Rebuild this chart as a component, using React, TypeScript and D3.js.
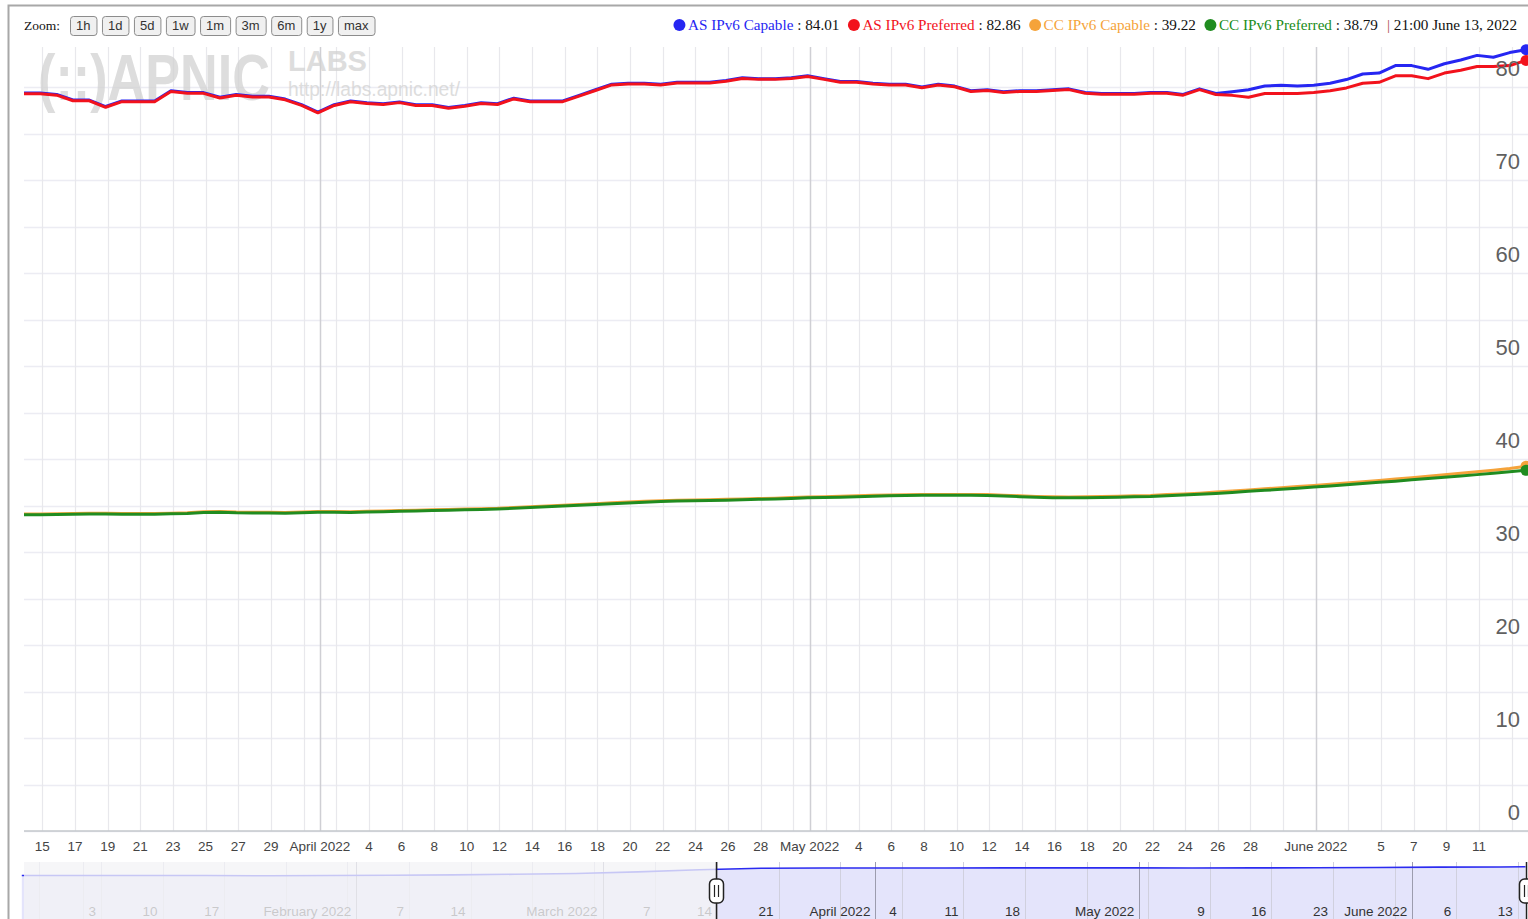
import * as d3 from "d3";
import { useEffect, useRef } from "react";

const WIDTH = 1528;
const HEIGHT = 919;

const seriesNames = [
  "AS IPv6 Capable",
  "AS IPv6 Preferred",
  "CC IPv6 Capable",
  "CC IPv6 Preferred",
];
const seriesColors = ["#2626f2", "#f2121c", "#f5a33a", "#208c20"];
const lastLabels = ["84.01", "82.86", "39.22", "38.79"];
const lastStamp = "21:00 June 13, 2022";

// daily samples at 21:00 UTC, first one on March 13
const firstSample = "2022-03-13T21:00:00Z";
const viewStart = "2022-03-13T21:00:00Z";
const viewEnd = "2022-06-13T21:00:00Z";
const navStart = "2021-12-25T06:00:00Z";

const asCapable = [
  79.35, 79.35, 79.2, 78.6, 78.6, 77.9, 78.5, 78.5, 78.5, 79.6,
  79.4, 79.4, 78.9, 79.2, 79.0, 79.0, 78.7, 78.1, 77.3, 78.1,
  78.5, 78.3, 78.2, 78.4, 78.1, 78.1, 77.8, 78.0, 78.3, 78.2,
  78.8, 78.5, 78.5, 78.5, 79.1, 79.7, 80.3, 80.4, 80.4, 80.3,
  80.5, 80.5, 80.5, 80.7, 81.0, 80.9, 80.9, 81.0, 81.2, 80.9,
  80.6, 80.6, 80.4, 80.3, 80.3, 80.0, 80.3, 80.1, 79.6, 79.7,
  79.5, 79.6, 79.6, 79.7, 79.8, 79.4, 79.3, 79.3, 79.3, 79.4,
  79.4, 79.2, 79.8, 79.3, 79.5, 79.7, 80.1, 80.2, 80.1, 80.2,
  80.4, 80.8, 81.4, 81.5, 82.3, 82.3, 81.9, 82.5, 82.9, 83.4,
  83.2, 83.7, 84.01,
];

const asPreferred = [
  79.27, 79.27, 79.12, 78.52, 78.52, 77.82, 78.42, 78.42, 78.42, 79.52,
  79.32, 79.32, 78.82, 79.12, 78.92, 78.92, 78.62, 78.02, 77.22, 78.02,
  78.42, 78.22, 78.12, 78.32, 78.02, 78.02, 77.72, 77.92, 78.22, 78.12,
  78.72, 78.42, 78.42, 78.42, 79.02, 79.62, 80.22, 80.32, 80.32, 80.22,
  80.42, 80.42, 80.42, 80.62, 80.92, 80.82, 80.82, 80.92, 81.12, 80.82,
  80.52, 80.52, 80.32, 80.22, 80.22, 79.92, 80.22, 80.02, 79.52, 79.62,
  79.42, 79.52, 79.52, 79.62, 79.72, 79.32, 79.22, 79.22, 79.22, 79.32,
  79.32, 79.12, 79.72, 79.2, 79.1, 78.9, 79.3, 79.3, 79.3, 79.4,
  79.6, 79.9, 80.4, 80.5, 81.2, 81.2, 80.9, 81.5, 81.8, 82.2,
  82.2, 82.3, 82.86,
];

const ccCapable = [
  34.08, 34.08, 34.1, 34.13, 34.16, 34.16, 34.14, 34.13, 34.14, 34.18,
  34.23, 34.33, 34.36, 34.3, 34.28, 34.28, 34.26, 34.3, 34.36, 34.36,
  34.34, 34.38, 34.42, 34.46, 34.5, 34.55, 34.58, 34.62, 34.65, 34.7,
  34.79, 34.87, 34.95, 35.03, 35.11, 35.19, 35.29, 35.37, 35.45, 35.52,
  35.57, 35.59, 35.62, 35.66, 35.71, 35.75, 35.79, 35.85, 35.91, 35.95,
  35.99, 36.04, 36.09, 36.13, 36.16, 36.18, 36.19, 36.19, 36.19, 36.17,
  36.11, 36.05, 35.98, 35.94, 35.92, 35.94, 35.97, 36.0, 36.05, 36.08,
  36.17, 36.24, 36.33, 36.44, 36.55, 36.67, 36.79, 36.91, 37.03, 37.15,
  37.28, 37.42, 37.56, 37.7, 37.84, 37.99, 38.14, 38.3, 38.46, 38.62,
  38.8, 38.98, 39.22,
];

const ccPreferred = [
  34.0, 34.0, 34.02, 34.05, 34.08, 34.08, 34.06, 34.05, 34.06, 34.1,
  34.15, 34.25, 34.28, 34.22, 34.2, 34.2, 34.18, 34.22, 34.28, 34.28,
  34.26, 34.3, 34.34, 34.38, 34.42, 34.47, 34.5, 34.54, 34.57, 34.62,
  34.7, 34.78, 34.86, 34.94, 35.02, 35.1, 35.2, 35.28, 35.36, 35.43,
  35.48, 35.5, 35.53, 35.57, 35.62, 35.66, 35.7, 35.76, 35.82, 35.86,
  35.9, 35.95, 36.0, 36.04, 36.07, 36.09, 36.1, 36.1, 36.1, 36.08,
  36.02, 35.95, 35.88, 35.84, 35.82, 35.84, 35.87, 35.9, 35.94, 35.97,
  36.05, 36.12, 36.2, 36.3, 36.41, 36.52, 36.63, 36.74, 36.86, 36.98,
  37.1, 37.23, 37.36, 37.49, 37.62, 37.76, 37.9, 38.04, 38.18, 38.32,
  38.46, 38.62, 38.79,
];

// navigator overview (weekly AS IPv6 Capable)
const navDates = [
  "2021-12-25", "2022-01-01", "2022-01-08", "2022-01-15", "2022-01-22",
  "2022-01-29", "2022-02-05", "2022-02-12", "2022-02-19", "2022-02-26",
  "2022-03-05", "2022-03-12", "2022-03-19", "2022-03-26", "2022-04-02",
  "2022-04-09", "2022-04-16", "2022-04-23", "2022-04-30", "2022-05-07",
  "2022-05-14", "2022-05-21", "2022-05-28", "2022-06-04", "2022-06-11",
  "2022-06-13T21:00:00Z",
];
const navValues = [
  70.5, 70.5, 70.4, 70.3, 70.1, 70.3, 70.7, 71.3, 72.2, 73.4,
  75.6, 78.8, 81.0, 81.2, 81.2, 81.3, 81.4, 81.5, 81.4, 81.3,
  81.4, 81.6, 82.0, 82.5, 82.8, 83.0,
];

const yTicks = [0, 10, 20, 30, 40, 50, 60, 70, 80];
const yGrid = [0, 5, 10, 15, 20, 25, 30, 35, 40, 45, 50, 55, 60, 65, 70, 75, 80];

const xTickDates = [
  "2022-03-15", "2022-03-17", "2022-03-19", "2022-03-21", "2022-03-23",
  "2022-03-25", "2022-03-27", "2022-03-29", "2022-03-31", "2022-04-01",
  "2022-04-02", "2022-04-04", "2022-04-06", "2022-04-08", "2022-04-10",
  "2022-04-12", "2022-04-14", "2022-04-16", "2022-04-18", "2022-04-20",
  "2022-04-22", "2022-04-24", "2022-04-26", "2022-04-28", "2022-04-30",
  "2022-05-01", "2022-05-02", "2022-05-04", "2022-05-06", "2022-05-08",
  "2022-05-10", "2022-05-12", "2022-05-14", "2022-05-16", "2022-05-18",
  "2022-05-20", "2022-05-22", "2022-05-24", "2022-05-26", "2022-05-28",
  "2022-05-30", "2022-06-01", "2022-06-03", "2022-06-05", "2022-06-07",
  "2022-06-09", "2022-06-11", "2022-06-13",
];
const xTickLabels = [
  "15", "17", "19", "21", "23", "25", "27", "29", "", "April 2022",
  "", "4", "6", "8", "10", "12", "14", "16", "18", "20",
  "22", "24", "26", "28", "", "May 2022", "", "4", "6", "8",
  "10", "12", "14", "16", "18", "20", "22", "24", "26", "28",
  "", "June 2022", "", "5", "7", "9", "11", "",
];

const navTickDates = [
  "2021-12-27", "2022-01-01", "2022-01-03", "2022-01-10", "2022-01-17",
  "2022-01-24", "2022-01-31", "2022-02-01", "2022-02-07", "2022-02-14",
  "2022-02-21", "2022-02-28", "2022-03-01", "2022-03-07", "2022-03-14",
  "2022-03-21", "2022-03-28", "2022-04-01", "2022-04-04", "2022-04-11",
  "2022-04-18", "2022-04-25", "2022-05-01", "2022-05-02", "2022-05-09",
  "2022-05-16", "2022-05-23", "2022-05-30", "2022-06-01", "2022-06-06",
  "2022-06-13",
];
const navTickLabels = [
  "", "", "3", "10", "17", "", "", "February 2022", "7", "14",
  "", "", "March 2022", "7", "14", "21", "", "April 2022", "4", "11",
  "18", "", "May 2022", "", "9", "16", "23", "", "June 2022", "6",
  "13",
];

const zoomButtons = ["1h", "1d", "5d", "1w", "1m", "3m", "6m", "1y", "max"];

const SANS = "'Liberation Sans', Arial, sans-serif";
const SERIF = "'Liberation Serif', 'Times New Roman', serif";

const utc = (s: string) => new Date(s.length === 10 ? s + "T00:00:00Z" : s);

export default function App() {
  const ref = useRef<SVGSVGElement>(null);

  useEffect(() => {
    const svg = d3.select(ref.current);
    svg.selectAll("*").remove();

    const plot = { left: 24, right: WIDTH, top: 45, bottom: 831 };
    const nav = { top: 862, bottom: HEIGHT };

    const x = d3
      .scaleUtc()
      .domain([utc(viewStart), utc(viewEnd)])
      .range([24, 1526]);
    const y = d3.scaleLinear().domain([0, 80]).range([831, 87]);

    const xNav = d3
      .scaleUtc()
      .domain([utc(navStart), utc(viewEnd)])
      .range([24, 1525.5]);
    const yNav = d3.scaleLinear().domain([0, 90]).range([924, 862]);

    const sampleDates = asCapable.map((_, i) =>
      d3.utcDay.offset(utc(firstSample), i)
    );
    const allSeries = [asCapable, asPreferred, ccCapable, ccPreferred];

    svg
      .append("rect")
      .attr("width", WIDTH)
      .attr("height", HEIGHT)
      .attr("fill", "#fff");

    // outer frame
    svg
      .append("path")
      .attr("d", `M8.5,${HEIGHT} V5.5 H${WIDTH}`)
      .attr("fill", "none")
      .attr("stroke", "#a8a8a8")
      .attr("stroke-width", 2);

    // zoom buttons
    svg
      .append("text")
      .attr("x", 24)
      .attr("y", 30)
      .attr("font-family", SERIF)
      .attr("font-size", 13.5)
      .attr("fill", "#111")
      .text("Zoom:");

    let bx = 70;
    zoomButtons.forEach((label) => {
      const g = svg.append("g");
      const rect = g.append("rect");
      const t = g
        .append("text")
        .attr("y", 30)
        .attr("font-family", SANS)
        .attr("font-size", 13)
        .attr("fill", "#333")
        .attr("text-anchor", "middle")
        .text(label);
      const w = (t.node() as SVGTextElement).getComputedTextLength() + 12;
      t.attr("x", bx + w / 2);
      rect
        .attr("x", bx + 0.5)
        .attr("y", 16.5)
        .attr("width", w)
        .attr("height", 19)
        .attr("rx", 3)
        .attr("fill", "#f0f0f0")
        .attr("stroke", "#8c8c8c");
      bx += w + 5.5;
    });

    // legend, built left to right and shifted so it ends at 1517
    const legend = svg.append("g");
    let lx = 0;
    const ly = 30;
    const legendSize = 15.2;
    seriesNames.forEach((name, i) => {
      legend
        .append("circle")
        .attr("cx", lx + 5.5)
        .attr("cy", ly - 5)
        .attr("r", 6)
        .attr("fill", seriesColors[i]);
      lx += 14;
      const t = legend
        .append("text")
        .attr("x", lx)
        .attr("y", ly)
        .attr("font-family", SERIF)
        .attr("font-size", legendSize);
      t.append("tspan").attr("fill", seriesColors[i]).text(name);
      t.append("tspan").attr("fill", "#111").text(` : ${lastLabels[i]}`);
      lx += (t.node() as SVGTextElement).getComputedTextLength() + 9;
    });
    const stamp = legend
      .append("text")
      .attr("x", lx)
      .attr("y", ly)
      .attr("font-family", SERIF)
      .attr("font-size", legendSize);
    stamp.append("tspan").attr("fill", "#b05050").text("| ");
    stamp.append("tspan").attr("fill", "#111").text(lastStamp);
    lx += (stamp.node() as SVGTextElement).getComputedTextLength();
    legend.attr("transform", `translate(${1517 - lx},0)`);

    // grid
    svg
      .append("g")
      .selectAll("line")
      .data(yGrid)
      .join("line")
      .attr("x1", plot.left)
      .attr("x2", plot.right)
      .attr("y1", (d) => Math.round(y(d)) + 0.5)
      .attr("y2", (d) => Math.round(y(d)) + 0.5)
      .attr("stroke", "#ececf3")
      .attr("stroke-width", 1.5);

    svg
      .append("g")
      .selectAll("line")
      .data(xTickDates.map((d, i) => ({ date: utc(d), label: xTickLabels[i] })))
      .join("line")
      .attr("x1", (d) => Math.round(x(d.date)) + 0.5)
      .attr("x2", (d) => Math.round(x(d.date)) + 0.5)
      .attr("y1", 47)
      .attr("y2", plot.bottom)
      .attr("stroke", (d) => (d.label.includes("2022") ? "#cfcfd4" : "#e8e8ec"))
      .attr("stroke-width", (d) => (d.label.includes("2022") ? 1.5 : 1.2));

    // watermark; the logo is squeezed horizontally with a transform
    const mark = svg.append("g").attr("fill", "#d2d2d2").attr("opacity", 0.75);
    const logo = mark
      .append("text")
      .attr("x", 0)
      .attr("y", 0)
      .attr("font-family", SANS)
      .attr("font-size", 64)
      .attr("font-weight", "bold")
      .text("(::)APNIC");
    const logoWidth = (logo.node() as SVGTextElement).getComputedTextLength();
    logo.attr("transform", `translate(38,100) scale(${232 / logoWidth},1)`);
    mark
      .append("text")
      .attr("x", 288)
      .attr("y", 71)
      .attr("font-family", SANS)
      .attr("font-weight", "bold")
      .attr("font-size", 29)
      .text("LABS");
    mark
      .append("text")
      .attr("x", 288)
      .attr("y", 96)
      .attr("font-family", SANS)
      .attr("font-size", 20)
      .attr("textLength", 172)
      .attr("lengthAdjust", "spacingAndGlyphs")
      .text("http://labs.apnic.net/");

    // series
    svg
      .append("clipPath")
      .attr("id", "plot-clip")
      .append("rect")
      .attr("x", plot.left)
      .attr("y", 30)
      .attr("width", plot.right - plot.left)
      .attr("height", plot.bottom - 30);

    const line = d3
      .line<number>()
      .x((_, i) => x(sampleDates[i]))
      .y((d) => y(d));

    const series = svg.append("g").attr("clip-path", "url(#plot-clip)");
    allSeries.forEach((values, i) => {
      series
        .append("path")
        .datum(values)
        .attr("fill", "none")
        .attr("stroke", seriesColors[i])
        .attr("stroke-width", 3)
        .attr("stroke-linejoin", "round")
        .attr("d", line);
    });
    allSeries.forEach((values, i) => {
      const last = values.length - 1;
      series
        .append("circle")
        .attr("cx", x(sampleDates[last]))
        .attr("cy", y(values[last]))
        .attr("r", 5.5)
        .attr("fill", seriesColors[i]);
    });

    // x axis
    svg
      .append("line")
      .attr("x1", plot.left)
      .attr("x2", plot.right)
      .attr("y1", 831)
      .attr("y2", 831)
      .attr("stroke", "#c4c8cc")
      .attr("stroke-width", 1.5);

    svg
      .append("g")
      .selectAll("text")
      .data(xTickDates.map((d, i) => ({ date: utc(d), label: xTickLabels[i] })).filter((d) => d.label))
      .join("text")
      .attr("x", (d) => x(d.date))
      .attr("y", 851)
      .attr("text-anchor", "middle")
      .attr("font-family", SANS)
      .attr("font-size", 13.5)
      .attr("fill", "#444")
      .text((d) => d.label);

    // y labels inside the plot, right side
    svg
      .append("g")
      .selectAll("text")
      .data(yTicks)
      .join("text")
      .attr("x", 1520)
      .attr("y", (d) => y(d) - 11)
      .attr("text-anchor", "end")
      .attr("font-family", SANS)
      .attr("font-size", 22)
      .attr("fill", "#606060")
      .text((d) => String(d));

    // navigator
    const navG = svg.append("g");
    navG
      .append("rect")
      .attr("x", plot.left)
      .attr("y", nav.top)
      .attr("width", plot.right - plot.left)
      .attr("height", nav.bottom - nav.top)
      .attr("fill", "#fff");

    const navPoints = navDates.map((d, i) => ({ date: utc(d), value: navValues[i] }));
    navG
      .append("path")
      .datum(navPoints)
      .attr("fill", "rgba(110,110,232,0.19)")
      .attr(
        "d",
        d3
          .area<{ date: Date; value: number }>()
          .x((d) => xNav(d.date))
          .y0(nav.bottom + 5)
          .y1((d) => yNav(d.value))
      );

    const navTicks = navTickDates.map((d, i) => ({ date: utc(d), label: navTickLabels[i] }));
    navG
      .append("g")
      .selectAll("line")
      .data(navTicks)
      .join("line")
      .attr("x1", (d) => Math.round(xNav(d.date)) + 0.5)
      .attr("x2", (d) => Math.round(xNav(d.date)) + 0.5)
      .attr("y1", nav.top)
      .attr("y2", nav.bottom)
      .attr("stroke", (d) => (d.label.includes("2022") ? "#9c9cae" : "#d0d0de"))
      .attr("stroke-width", 1);

    navG
      .append("path")
      .datum(navPoints)
      .attr("fill", "none")
      .attr("stroke", "#2b2bf0")
      .attr("stroke-width", 1.6)
      .attr(
        "d",
        d3
          .line<{ date: Date; value: number }>()
          .x((d) => xNav(d.date))
          .y((d) => yNav(d.value))
      );

    navG
      .append("g")
      .selectAll("text")
      .data(navTicks.filter((d) => d.label))
      .join("text")
      .attr("x", (d) => xNav(d.date) - 5)
      .attr("y", 916)
      .attr("text-anchor", "end")
      .attr("font-family", SANS)
      .attr("font-size", 13.5)
      .attr("fill", "#333")
      .text((d) => d.label);

    // mask over the part of the navigator outside the selection
    const selStart = xNav(utc(viewStart));
    const selEnd = xNav(utc(viewEnd));
    navG
      .append("rect")
      .attr("x", plot.left)
      .attr("y", nav.top)
      .attr("width", selStart - plot.left)
      .attr("height", nav.bottom - nav.top)
      .attr("fill", "rgba(244,244,246,0.78)");

    [selStart, selEnd].forEach((hx) => {
      const h = navG.append("g").attr("transform", `translate(${Math.round(hx) + 0.5},0)`);
      h.append("line")
        .attr("y1", nav.top)
        .attr("y2", nav.bottom)
        .attr("stroke", "#222")
        .attr("stroke-width", 1.5);
      h.append("rect")
        .attr("x", -7)
        .attr("y", 879)
        .attr("width", 14)
        .attr("height", 24)
        .attr("rx", 5)
        .attr("fill", "#fff")
        .attr("stroke", "#222")
        .attr("stroke-width", 1.5);
      [-2, 2].forEach((dx) =>
        h.append("line")
          .attr("x1", dx)
          .attr("x2", dx)
          .attr("y1", 885)
          .attr("y2", 897)
          .attr("stroke", "#222")
          .attr("stroke-width", 1.2)
      );
    });
  }, []);

  return (
    <svg
      ref={ref}
      width={WIDTH}
      height={HEIGHT}
      style={{ position: "absolute", left: 0, top: 0, display: "block" }}
    />
  );
}
